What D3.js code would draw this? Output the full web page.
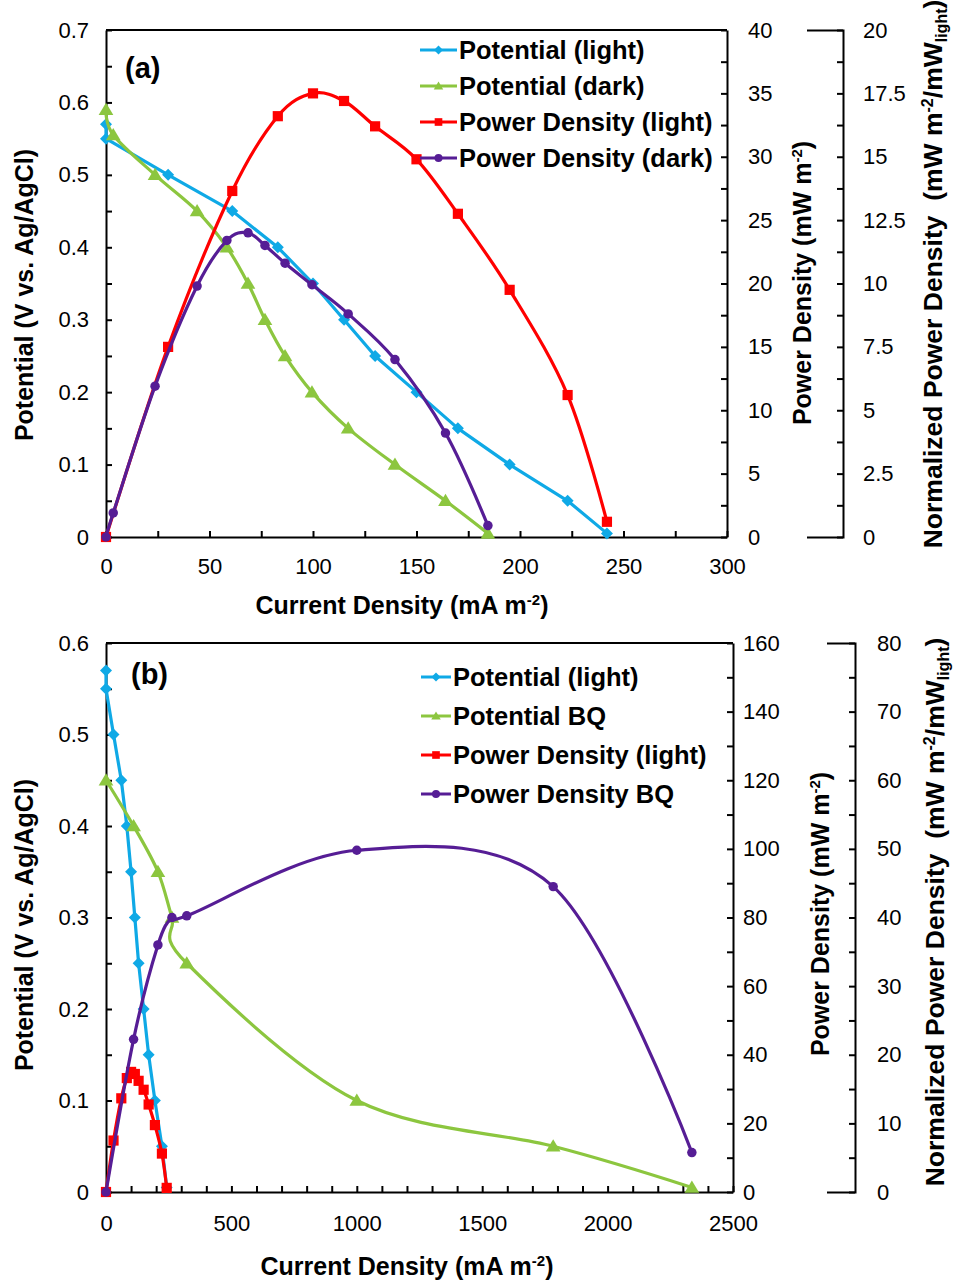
<!DOCTYPE html>
<html><head><meta charset="utf-8">
<script src="https://cdn.jsdelivr.net/npm/d3@7"></script>
<style>
body{margin:0;background:#fff}
svg{display:block}
text{font-family:"Liberation Sans",Arial,sans-serif;fill:#000}
</style>
</head><body>
<svg id="c" width="954" height="1281"></svg>
<script>
// ---------- DATA ----------
// Panel (a)
const currentLight = [0, 0, 30, 61, 83, 100, 115, 130, 150, 170, 195, 223, 242];
const potentialLight = [0.57, 0.55, 0.50, 0.45, 0.40, 0.35, 0.30, 0.25, 0.20, 0.15, 0.10, 0.05, 0.005];
const currentPowerLight = [0, 30, 61, 83, 100, 115, 130, 150, 170, 195, 223, 242];
const powerLight = [0, 15.0, 27.3, 33.2, 35.0, 34.4, 32.4, 29.8, 25.5, 19.5, 11.2, 1.2];
const currentDark = [0, 3.5, 23.7, 44, 58.4, 68.6, 76.8, 86.5, 99.5, 117, 139.6, 164, 184.5];
const potentialDark = [0.59, 0.555, 0.50, 0.45, 0.40, 0.35, 0.30, 0.25, 0.20, 0.15, 0.10, 0.05, 0.005];
const powerDark = [0, 1.9, 11.9, 19.8, 23.4, 24.0, 23.0, 21.6, 19.9, 17.6, 14.0, 8.2, 0.9];
// Panel (b)
const currentBQ = [0, 110, 207, 263, 322, 1000, 1783, 2336];
const potentialBQ = [0.45, 0.40, 0.35, 0.30, 0.25, 0.10, 0.05, 0.005];
const powerBQ = [0, 44.5, 72, 80, 80.5, 99.6, 89, 11.5];

// Tick labels
const xLabelsA = [0, 50, 100, 150, 200, 250, 300];
const yLabelsA = [0, 0.1, 0.2, 0.3, 0.4, 0.5, 0.6, 0.7];
const pLabelsA = [0, 5, 10, 15, 20, 25, 30, 35, 40];
const nLabelsA = [0, 2.5, 5, 7.5, 10, 12.5, 15, 17.5, 20];
const xLabelsB = [0, 500, 1000, 1500, 2000, 2500];
const yLabelsB = [0, 0.1, 0.2, 0.3, 0.4, 0.5, 0.6];
const pLabelsB = [0, 20, 40, 60, 80, 100, 120, 140, 160];
const nLabelsB = [0, 10, 20, 30, 40, 50, 60, 70, 80];

const legendA = ["Potential (light)", "Potential (dark)", "Power Density (light)", "Power Density (dark)"];
const legendB = ["Potential (light)", "Potential BQ", "Power Density (light)", "Power Density BQ"];

const colors = {blue:"#0FA9E6", green:"#8CC63F", red:"#FF0000", purple:"#561D95"};

// ---------- DRAW ----------
const svg = d3.select("#c");
const zip = (a, b) => a.map((v, i) => [v, b[i]]);
const minors = (labels, step) => { const mx = labels[labels.length-1]; return d3.range(0, Math.round(mx/step)+1).map(i => +(i*step).toFixed(4)); };

function markerPath(shape, s) {
  if (shape === "diamond") return `M0,${-s}L${s},0L0,${s}L${-s},0Z`;
  if (shape === "triangle") return `M0,${-s}L${s*1.05},${s*0.75}L${-s*1.05},${s*0.75}Z`;
  if (shape === "square") { const h = s*0.85; return `M${-h},${-h}H${h}V${h}H${-h}Z`; }
  return d3.symbol(d3.symbolCircle, Math.PI*s*s*0.8)();
}

function styleAxis(sel, fs) {
  sel.select(".domain").attr("stroke","#000").attr("stroke-width",2);
  sel.selectAll(".tick line").attr("stroke","#000").attr("stroke-width",2);
  sel.selectAll(".tick text").attr("font-size",fs).attr("font-family","'Liberation Sans',Arial,sans-serif").attr("fill","#000");
}

function labelFmt(labels) {
  return v => labels.some(l => Math.abs(l - v) < 1e-6) ? String(+v.toFixed(2)) : "";
}

const TF = 22;   // tick font
const HF = 25;   // title font

function drawPanel(c) {
  const g = svg.append("g");
  const x = d3.scaleLinear().domain([0, c.xLabels[c.xLabels.length-1]]).range([c.left, c.right]);
  const y = d3.scaleLinear().domain([0, c.yLabels[c.yLabels.length-1]]).range([c.bottom, c.top]);
  const p = d3.scaleLinear().domain([0, c.pLabels[c.pLabels.length-1]]).range([c.bottom, c.top]);
  const n = d3.scaleLinear().domain([0, c.nLabels[c.nLabels.length-1]]).range([c.bottom, c.top]);

  g.append("line").attr("x1",c.left).attr("x2",c.right).attr("y1",c.top).attr("y2",c.top)
    .attr("stroke","#000").attr("stroke-width",2);

  g.append("g").attr("transform",`translate(0,${c.bottom})`)
    .call(d3.axisBottom(x).tickValues(minors(c.xLabels, c.xStep)).tickFormat(labelFmt(c.xLabels))
      .tickSizeInner(-6).tickSizeOuter(0).tickPadding(c.xPad))
    .call(s => styleAxis(s, TF));

  g.append("g").attr("transform",`translate(${c.left},0)`)
    .call(d3.axisLeft(y).tickValues(minors(c.yLabels, c.yStep)).tickFormat(labelFmt(c.yLabels))
      .tickSizeInner(-6).tickSizeOuter(0).tickPadding(17))
    .call(s => styleAxis(s, TF));

  g.append("g").attr("transform",`translate(${c.right},0)`)
    .call(d3.axisRight(p).tickValues(minors(c.pLabels, c.pStep)).tickFormat(labelFmt(c.pLabels))
      .tickSizeInner(-6).tickSizeOuter(0).tickPadding(c.pPad))
    .call(s => styleAxis(s, TF));

  g.append("g").attr("transform",`translate(${c.axis3},0)`)
    .call(d3.axisRight(n).tickValues(minors(c.nLabels, c.nStep)).tickFormat(labelFmt(c.nLabels))
      .tickSizeInner(-6).tickSizeOuter(-c.bracket).tickPadding(c.nPad))
    .call(s => styleAxis(s, TF));

  // series
  c.series.forEach(s => {
    const sc = s.axis === "p" ? p : y;
    const pts = zip(s.xs, s.ys);
    const curve = s.smooth ? d3.curveCardinal.tension(0) : d3.curveLinear;
    g.append("path").datum(pts)
      .attr("d", d3.line().x(d => x(d[0])).y(d => sc(d[1])).curve(curve))
      .attr("fill","none").attr("stroke",s.color).attr("stroke-width",3.2).attr("stroke-linejoin","round");
    g.selectAll(null).data(pts).enter().append("path")
      .attr("transform", d => `translate(${x(d[0])},${sc(d[1])})`)
      .attr("d", markerPath(s.shape, s.size)).attr("fill", s.color);
  });

  // legend
  c.series.forEach((s, i) => {
    const ly = c.legY + i*c.legDy;
    g.append("line").attr("x1",c.legX).attr("x2",c.legX+c.legW).attr("y1",ly).attr("y2",ly)
      .attr("stroke",s.color).attr("stroke-width",3);
    g.append("path").attr("transform",`translate(${c.legX+c.legW/2},${ly})`)
      .attr("d", markerPath(s.shape, 4.5)).attr("fill", s.color);
    g.append("text").attr("x", c.legX+c.legW+2).attr("y", ly).attr("dy","0.36em")
      .attr("font-size",25.5).attr("font-weight","bold").text(c.legend[i]);
  });

  // tag
  g.append("text").attr("x",c.tagX).attr("y",c.tagY).attr("font-size",29).attr("font-weight","bold").text(c.tag);

  // x title
  const xt = g.append("text").attr("x", c.xTitleX).attr("y", c.xTitleY).attr("text-anchor","middle")
    .attr("font-size",HF).attr("font-weight","bold");
  xt.append("tspan").text("Current Density (mA m");
  xt.append("tspan").attr("dy",-9).attr("font-size",15).text("-2");
  xt.append("tspan").attr("dy",9).text(")");

  // y title
  g.append("text").attr("transform",`translate(${c.yTitleX},${c.yTitleY}) rotate(-90)`).attr("text-anchor","middle")
    .attr("font-size",HF).attr("font-weight","bold").text("Potential (V vs. Ag/AgCl)");

  // power title
  const pt = g.append("text").attr("transform",`translate(${c.pTitleX},${c.pTitleY}) rotate(-90)`).attr("text-anchor","middle")
    .attr("font-size",HF).attr("font-weight","bold");
  pt.append("tspan").text("Power Density (mW m");
  pt.append("tspan").attr("dy",-9).attr("font-size",15).text("-2");
  pt.append("tspan").attr("dy",9).text(")");

  // normalized title
  const nt = g.append("text").attr("transform",`translate(${c.nTitleX},${c.nTitleY}) rotate(-90)`).attr("text-anchor","middle")
    .attr("font-size",26.5).attr("font-weight","bold");
  nt.append("tspan").text("Normalized Power Density\u00A0\u00A0(mW m");
  nt.append("tspan").attr("dy",-9).attr("font-size",16).text("-2");
  nt.append("tspan").attr("dy",9).text("/mW");
  nt.append("tspan").attr("dy",5).attr("font-size",16).text("light");
  nt.append("tspan").attr("dy",-5).text(")");
}

drawPanel({
  left:106, right:727, top:30, bottom:537,
  xLabels:xLabelsA, xStep:25, xPad:21,
  yLabels:yLabelsA, yStep:0.05,
  pLabels:pLabelsA, pStep:2.5, pPad:21,
  nLabels:nLabelsA, nStep:1.25, nPad:20, axis3:843, bracket:36,
  series:[
    {xs:currentLight, ys:potentialLight, axis:"y", color:colors.blue, shape:"diamond", size:6, smooth:false},
    {xs:currentDark, ys:potentialDark, axis:"y", color:colors.green, shape:"triangle", size:7, smooth:true},
    {xs:currentPowerLight, ys:powerLight, axis:"p", color:colors.red, shape:"square", size:6, smooth:true},
    {xs:currentDark, ys:powerDark, axis:"p", color:colors.purple, shape:"circle", size:5.3, smooth:true}
  ],
  legend:legendA, legX:420, legY:50, legDy:36, legW:37,
  tag:"(a)", tagX:125, tagY:78,
  xTitleX:402, xTitleY:614, yTitleX:33, yTitleY:295,
  pTitleX:811, pTitleY:283, nTitleX:942, nTitleY:274
});

drawPanel({
  left:106, right:733, top:643, bottom:1192,
  xLabels:xLabelsB, xStep:100, xPad:23,
  yLabels:yLabelsB, yStep:0.05,
  pLabels:pLabelsB, pStep:10, pPad:10,
  nLabels:nLabelsB, nStep:5, nPad:22, axis3:855, bracket:28,
  series:[
    {xs:currentLight, ys:potentialLight, axis:"y", color:colors.blue, shape:"diamond", size:6, smooth:false},
    {xs:currentBQ, ys:potentialBQ, axis:"y", color:colors.green, shape:"triangle", size:7, smooth:true},
    {xs:currentPowerLight, ys:powerLight, axis:"p", color:colors.red, shape:"square", size:6, smooth:true},
    {xs:currentBQ, ys:powerBQ, axis:"p", color:colors.purple, shape:"circle", size:5.3, smooth:true}
  ],
  legend:legendB, legX:421, legY:677, legDy:39, legW:30,
  tag:"(b)", tagX:131, tagY:684,
  xTitleX:407, xTitleY:1275, yTitleX:33, yTitleY:925,
  pTitleX:829, pTitleY:914, nTitleX:944, nTitleY:912
});
</script>
</body></html>
